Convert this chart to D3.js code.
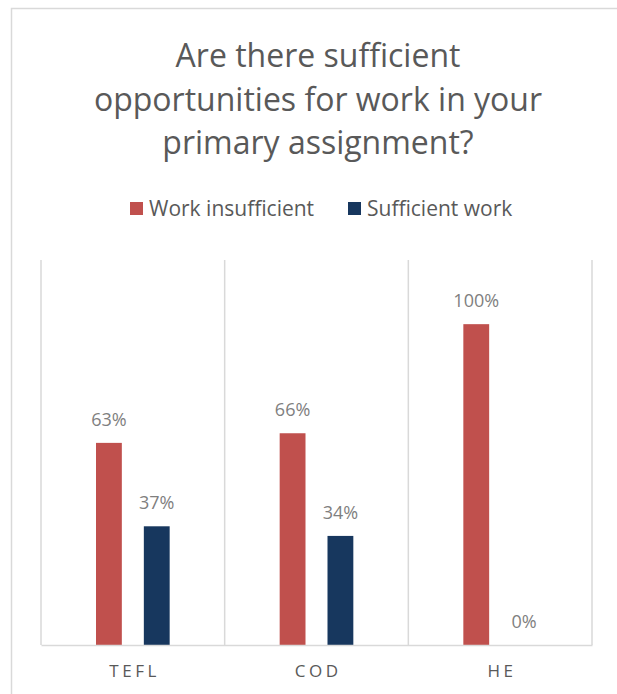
<!DOCTYPE html>
<html>
<head>
<meta charset="utf-8">
<script src="https://cdn.jsdelivr.net/npm/d3@7"></script>
<style>
  body { margin: 0; background: #fff; }
  text { font-family: "Open Sans", sans-serif; }
</style>
</head>
<body>
<div id="wrapper"></div>
<script>
// DATA
const categories = ["TEFL", "COD", "HE"]
const seriesNames = ["Work insufficient", "Sufficient work"]
const workInsufficient = [0.63, 0.66, 1.00]
const sufficientWork = [0.37, 0.34, 0.00]
const titleLines = ["Are there sufficient", "opportunities for work in your", "primary assignment?"]
const colors = ["#c0504d", "#17375e"]

function drawChart() {
  // Dimensions
  const width = 617
  const height = 694
  const plot = { left: 41, right: 592, top: 260, bottom: 645 }

  const svg = d3.select("#wrapper")
    .append("svg")
    .attr("width", width)
    .attr("height", height)

  // outer chart frame (cut off at the right/bottom of the picture)
  svg.append("path")
    .attr("d", `M11.5,${height} V8.5 H${width}`)
    .attr("fill", "none")
    .attr("stroke", "#d9d9d9")
    .attr("stroke-width", 1.5)

  // TITLE
  svg.append("g")
    .selectAll("text")
    .data(titleLines)
    .join("text")
    .attr("x", 318)
    .attr("y", (d, i) => 67 + i * 43.5)
    .attr("text-anchor", "middle")
    .attr("font-size", 32)
    .attr("fill", "#595959")
    .text(d => d)

  // LEGEND
  const legendItems = [
    { name: seriesNames[0], color: colors[0], x: 130 },
    { name: seriesNames[1], color: colors[1], x: 348 }
  ]
  const legend = svg.append("g")
    .selectAll("g")
    .data(legendItems)
    .join("g")
    .attr("transform", d => `translate(${d.x}, 202)`)
  legend.append("rect")
    .attr("width", 13)
    .attr("height", 13)
    .attr("fill", d => d.color)
  legend.append("text")
    .attr("x", 19)
    .attr("y", 14)
    .attr("font-size", 21)
    .attr("fill", "#595959")
    .text(d => d.name)

  // SCALES
  const x0 = d3.scaleBand()
    .domain(categories)
    .range([plot.left, plot.right])
    .padding(0)

  const x1 = d3.scaleBand()
    .domain(seriesNames)
    .range([0, x0.bandwidth()])
    .paddingInner(0.46)
    .paddingOuter(1.15)

  const y = d3.scaleLinear()
    .domain([0, 1.2])
    .range([plot.bottom, plot.top])

  // vertical gridlines between categories
  const gridX = categories.map(c => x0(c)).concat([x0.range()[1]])
  svg.append("g")
    .selectAll("line")
    .data(gridX)
    .join("line")
    .attr("x1", d => d)
    .attr("x2", d => d)
    .attr("y1", plot.top)
    .attr("y2", plot.bottom)
    .attr("stroke", "#d9d9d9")
    .attr("stroke-width", 1.5)

  // BARS
  const rows = categories.map((c, i) => ({
    category: c,
    values: [
      { series: seriesNames[0], value: workInsufficient[i], color: colors[0] },
      { series: seriesNames[1], value: sufficientWork[i], color: colors[1] }
    ]
  }))

  const groups = svg.append("g")
    .selectAll("g")
    .data(rows)
    .join("g")
    .attr("transform", d => `translate(${x0(d.category)}, 0)`)

  groups.selectAll("rect")
    .data(d => d.values)
    .join("rect")
    .attr("x", d => x1(d.series))
    .attr("width", x1.bandwidth())
    .attr("y", d => y(d.value))
    .attr("height", d => y(0) - y(d.value))
    .attr("fill", d => d.color)

  groups.selectAll("text")
    .data(d => d.values)
    .join("text")
    .attr("x", d => x1(d.series) + x1.bandwidth() / 2)
    .attr("y", d => y(d.value) - 17)
    .attr("text-anchor", "middle")
    .attr("font-size", 18)
    .attr("fill", "#7f7f7f")
    .text(d => d3.format(".0%")(d.value))

  // X AXIS
  const xAxis = svg.append("g")
    .attr("transform", `translate(0, ${plot.bottom})`)
    .call(d3.axisBottom(x0).tickSize(0).tickPadding(20))
  xAxis.select(".domain")
    .attr("stroke", "#d9d9d9")
    .attr("stroke-width", 1.5)
  xAxis.selectAll("text")
    .attr("font-family", "Open Sans, sans-serif")
    .attr("font-size", 17)
    .attr("fill", "#595959")
    .attr("letter-spacing", "3.5px")
    .attr("dx", "1.75px")
}
drawChart()
</script>
</body>
</html>
